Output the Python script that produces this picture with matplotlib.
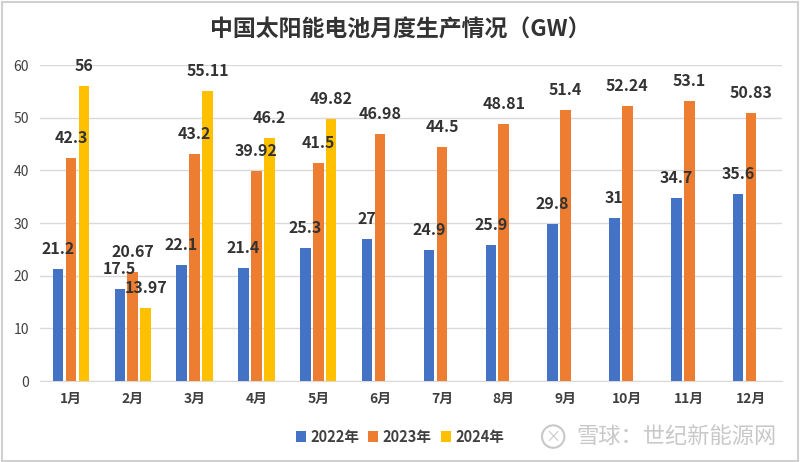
import numpy as np
import matplotlib.pyplot as plt
from matplotlib.patches import Rectangle, Ellipse

plt.rcParams['font.family'] = ['Noto Sans CJK SC', 'DejaVu Sans']

# Monthly solar cell production in China (GW)
months = ['1月', '2月', '3月', '4月', '5月', '6月', '7月', '8月', '9月', '10月', '11月', '12月']
series_names = ['2022年', '2023年', '2024年']
y2022 = [21.2, 17.5, 22.1, 21.4, 25.3, 27, 24.9, 25.9, 29.8, 31, 34.7, 35.6]
y2023 = [42.3, 20.67, 43.2, 39.92, 41.5, 46.98, 44.5, 48.81, 51.4, 52.24, 53.1, 50.83]
y2024 = [56, 13.97, 55.11, 46.2, 49.82]
colors = ['#4472C4', '#ED7D31', '#FFC000']

fig = plt.figure(figsize=(8, 4.62), dpi=100)
ax = fig.add_axes([0.05, 0.175, 0.9275, 0.684])

x = np.arange(len(months))
w = 0.17
step = 0.21
for i, (vals, c, name) in enumerate(zip([y2022, y2023, y2024], colors, series_names)):
    xs = x[:len(vals)] + (i - 1) * step
    ax.bar(xs, vals, width=w, color=c, label=name, zorder=3)
    for xi, v in zip(xs, vals):
        ax.annotate(f'{v:g}', (xi, v), xytext=(0, 20), textcoords='offset pixels',
                    ha='center', va='center', fontsize=11.5, fontweight='bold',
                    color='#333333', zorder=4)

ax.set_xlim(-0.5, len(months) - 0.5)
ax.set_ylim(0, 60)
ax.set_yticks(range(0, 61, 10))
ax.set_xticks(x)
ax.set_xticklabels(months, fontsize=10, fontweight='bold', color='#404040')
ax.tick_params(axis='y', labelsize=10, colors='#404040', length=0, pad=8)
ax.tick_params(axis='x', length=0, pad=8)
ax.grid(axis='y', color='#D9D9D9', linewidth=1, zorder=0)
for s in ['top', 'right', 'left']:
    ax.spines[s].set_visible(False)
ax.spines['bottom'].set_color('#D9D9D9')

fig.suptitle('中国太阳能电池月度生产情况（GW）', y=0.96, fontsize=16.5,
             fontweight='bold', color='#333333')

leg = fig.legend(loc='center', bbox_to_anchor=(0.5, 0.055), ncol=3, frameon=False,
                 fontsize=10.5, handlelength=0.7, handleheight=0.7, handletextpad=0.3,
                 columnspacing=0.6)
for t in leg.get_texts():
    t.set_fontweight('bold')
    t.set_color('#404040')

# watermark
fig.patches.append(Ellipse((0.6915, 0.055), 0.028, 0.0485, transform=fig.transFigure,
                           fill=False, edgecolor='#C8C8C8', linewidth=1.5))
fig.text(0.6915, 0.053, '×', ha='center', va='center', fontsize=11, color='#C8C8C8')
fig.text(0.845, 0.055, '雪球：世纪新能源网', ha='center', va='center', fontsize=16,
         color='#C8C8C8')

fig.patches.append(Rectangle((0.002, 0.003), 0.995, 0.993, transform=fig.transFigure,
                             fill=False, edgecolor='#D0D0D0', linewidth=1.5))

fig.savefig('out.png', dpi=100)
